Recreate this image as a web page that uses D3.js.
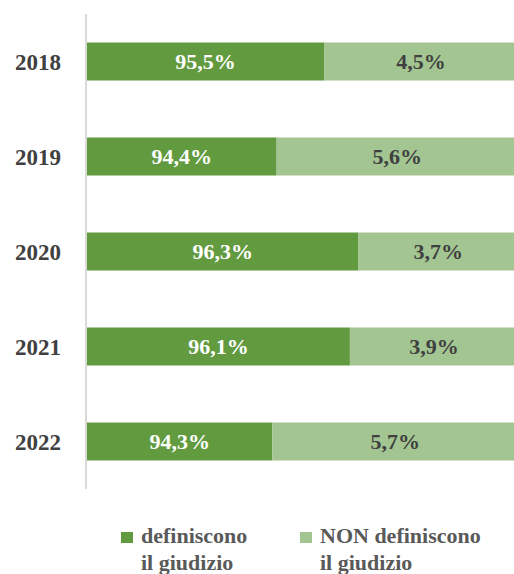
<!DOCTYPE html>
<html>
<head>
<meta charset="utf-8">
<script src="https://cdn.jsdelivr.net/npm/d3@7"></script>
<style>
  body { margin: 0; background: #fff; }
  svg text { font-family: "Liberation Serif", "Times New Roman", "DejaVu Serif", serif; font-weight: bold; }
</style>
</head>
<body>
<main></main>
<script>
const width = 514;
const height = 574;

const years = ["2018", "2019", "2020", "2021", "2022"];
const definiscono = [95.5, 94.4, 96.3, 96.1, 94.3];
const nonDefiniscono = [4.5, 5.6, 3.7, 3.9, 5.7];
const seriesNames = ["definiscono il giudizio", "NON definiscono il giudizio"];
const colors = ["#629a3f", "#a3c592"];

const svg = d3.select("main")
              .append("svg")
              .attr("width", width)
              .attr("height", height);

// the axis in the original starts at 90%, not 0
const xScale = d3.scaleLinear().domain([90, 100]).range([87, 518]);
const yScale = d3.scaleBand().domain(years).range([14, 489]).paddingInner(0.6).paddingOuter(0.3);

const rows = years.map((y, i) => ({year: y, a: definiscono[i], b: nonDefiniscono[i]}));

// vertical axis line
svg.append("line")
   .attr("x1", 86).attr("x2", 86)
   .attr("y1", 14).attr("y2", 489)
   .attr("stroke", "#d9d9d9")
   .attr("stroke-width", 2);

const row = svg.selectAll(".row")
               .data(rows)
               .enter()
               .append("g")
               .attr("class", "row");

row.append("rect")
   .attr("x", xScale(90))
   .attr("y", (d) => yScale(d.year))
   .attr("width", (d) => xScale(d.a) - xScale(90))
   .attr("height", yScale.bandwidth())
   .attr("fill", colors[0]);

row.append("rect")
   .attr("x", (d) => xScale(d.a))
   .attr("y", (d) => yScale(d.year))
   .attr("width", (d) => xScale(d.a + d.b) - xScale(d.a))
   .attr("height", yScale.bandwidth())
   .attr("fill", colors[1]);

const fmt = (v) => v.toFixed(1).replace(".", ",") + "%";

row.append("text")
   .attr("x", (d) => (xScale(90) + xScale(d.a)) / 2)
   .attr("y", (d) => yScale(d.year) + yScale.bandwidth() / 2)
   .attr("dy", "0.35em")
   .attr("text-anchor", "middle")
   .attr("font-size", 22)
   .attr("fill", "#ffffff")
   .text((d) => fmt(d.a));

row.append("text")
   .attr("x", (d) => (xScale(d.a) + xScale(d.a + d.b)) / 2)
   .attr("y", (d) => yScale(d.year) + yScale.bandwidth() / 2)
   .attr("dy", "0.35em")
   .attr("text-anchor", "middle")
   .attr("font-size", 22)
   .attr("fill", "#404040")
   .text((d) => fmt(d.b));

// year labels
row.append("text")
   .attr("x", 61)
   .attr("y", (d) => yScale(d.year) + yScale.bandwidth() / 2)
   .attr("dy", "0.35em")
   .attr("text-anchor", "end")
   .attr("font-size", 23)
   .attr("fill", "#404040")
   .text((d) => d.year);

// legend
const legendX = [121, 300];
const legend = svg.selectAll(".legend")
                  .data(seriesNames)
                  .enter()
                  .append("g")
                  .attr("class", "legend")
                  .attr("transform", (d, i) => `translate(${legendX[i]}, 532)`);

legend.append("rect")
      .attr("width", 12)
      .attr("height", 11)
      .attr("fill", (d, i) => colors[i]);

legend.append("text")
      .attr("x", 20)
      .attr("y", 11)
      .attr("font-size", 22)
      .attr("fill", "#595959")
      .text((d) => d.split(" il ")[0]);

legend.append("text")
      .attr("x", 20)
      .attr("y", 38)
      .attr("font-size", 22)
      .attr("fill", "#595959")
      .text("il giudizio");
</script>
</body>
</html>
